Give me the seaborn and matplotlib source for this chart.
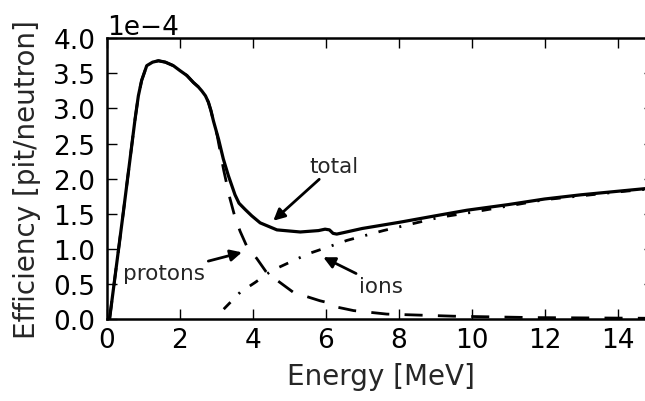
import matplotlib
matplotlib.use("Agg")
import matplotlib.pyplot as plt
import seaborn as sns
import numpy as np

# ---- data (efficiency in units of 1e-4 pit/neutron) ----
total_x = [0.07, 0.45, 0.77, 0.86, 0.95, 1.09, 1.25, 1.41, 1.60, 1.82, 2.00, 2.19, 2.37,
           2.50, 2.60, 2.70, 2.78, 2.85, 2.92, 3.06, 3.19, 3.33, 3.43, 3.51, 3.62, 3.79,
           3.97, 4.20, 4.66, 5.30, 5.80, 5.98, 6.10, 6.20, 6.30, 6.48, 7.00, 8.04, 9.00,
           9.87, 11.0, 12.0, 13.0, 14.0, 15.0]
total_y = [0.00, 1.53, 2.85, 3.18, 3.40, 3.61, 3.66, 3.68, 3.66, 3.61, 3.54, 3.47, 3.37,
           3.31, 3.25, 3.18, 3.09, 2.97, 2.82, 2.56, 2.28, 2.04, 1.89, 1.77, 1.65, 1.56,
           1.47, 1.37, 1.27, 1.24, 1.26, 1.28, 1.27, 1.22, 1.21, 1.23, 1.29, 1.38, 1.47,
           1.55, 1.63, 1.71, 1.77, 1.82, 1.87]

protons_x = [0.07, 0.45, 0.77, 0.86, 0.95, 1.09, 1.25, 1.41, 1.60, 1.82, 2.00, 2.19, 2.37,
             2.50, 2.60, 2.70, 2.78, 2.85, 2.92, 3.02, 3.20, 3.37, 3.51, 3.65, 3.83, 4.11,
             4.38, 5.11, 5.84, 6.00, 6.12, 6.76, 7.67, 9.50, 11.7, 15.0]
protons_y = [0.00, 1.53, 2.85, 3.18, 3.40, 3.61, 3.66, 3.68, 3.66, 3.61, 3.54, 3.47, 3.37,
             3.31, 3.25, 3.18, 3.09, 2.97, 2.82, 2.62, 2.12, 1.72, 1.45, 1.25, 1.04, 0.86,
             0.66, 0.38, 0.26, 0.24, 0.19, 0.12, 0.07, 0.04, 0.02, 0.01]

ions_x = [3.20, 3.65, 4.06, 4.52, 5.02, 5.52, 6.03, 6.58, 7.58, 9.13, 10.0, 12.0, 14.0, 15.0]
ions_y = [0.14, 0.38, 0.52, 0.69, 0.81, 0.93, 1.02, 1.12, 1.26, 1.45, 1.52, 1.70, 1.81, 1.86]

scale = 1e-4
x_ticks = [0, 2, 4, 6, 8, 10, 12, 14]
y_ticks = [0.0, 0.5, 1.0, 1.5, 2.0, 2.5, 3.0, 3.5, 4.0]

sns.set_theme(style="ticks")
plt.rcParams["font.family"] = ["DejaVu Sans"]

fig = plt.figure(figsize=(6.45, 4.02), dpi=100)
ax = fig.add_axes([107 / 645, 82 / 402, (654 - 107) / 645, (320 - 39.3) / 402])

sns.lineplot(x=total_x, y=np.array(total_y) * scale, ax=ax, color="black", lw=2.3,
             sort=False, estimator=None)
sns.lineplot(x=protons_x, y=np.array(protons_y) * scale, ax=ax, color="black", lw=2.0,
             linestyle=(0, (6.5, 5.5)), sort=False, estimator=None)
sns.lineplot(x=ions_x, y=np.array(ions_y) * scale, ax=ax, color="black", lw=2.0,
             linestyle=(0, (3.5, 4.2, 0.75, 4.2)), sort=False, estimator=None)

ax.set_xlim(0, 15)
ax.set_ylim(0, 4.0e-4)
ax.set_xticks(x_ticks)
ax.set_yticks([v * scale for v in y_ticks])
ax.ticklabel_format(style="sci", axis="y", scilimits=(0, 0))

ax.tick_params(direction="in", length=7.2, width=1.0, top=True, right=True,
               labelsize=19, colors="black")
ax.tick_params(axis="x", pad=6)
ax.tick_params(axis="y", pad=8.5)
for s in ax.spines.values():
    s.set_linewidth(1.8)
    s.set_color("black")
ax.yaxis.get_offset_text().set_fontsize(19)

ax.set_xlabel("Energy [MeV]", fontsize=20, labelpad=6)
ax.set_ylabel("Efficiency [pit/neutron]", fontsize=20, labelpad=9)

arrow = dict(arrowstyle="-|>", color="black", lw=2.0, mutation_scale=17, shrinkA=0, shrinkB=0)
ax.annotate("total", xy=(4.56, 1.40e-4), xytext=(5.55, 2.18e-4), fontsize=15.5,
            va="center", ha="left", arrowprops=arrow)
ax.annotate("protons", xy=(3.70, 0.95e-4), xytext=(0.44, 0.66e-4), fontsize=15.5,
            va="center", ha="left", arrowprops=arrow)
ax.annotate("ions", xy=(5.93, 0.88e-4), xytext=(6.92, 0.47e-4), fontsize=15.5,
            va="center", ha="left", arrowprops=arrow)

fig.savefig("out.png", dpi=100)
